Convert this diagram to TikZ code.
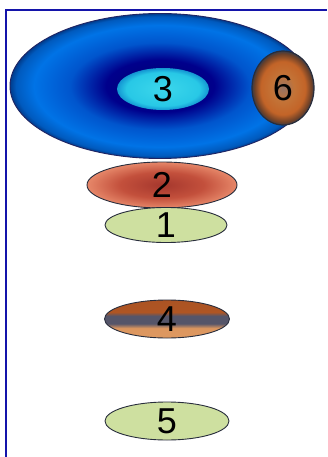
\documentclass[tikz,border=0pt]{standalone}
\usepackage{fontspec}
\setmainfont{Liberation Sans}
\usepackage{tikz}
\usetikzlibrary{shapes.geometric, positioning}

\definecolor{framecol}{RGB}{20,20,170}
\definecolor{lightgreen}{RGB}{206,224,160}
\definecolor{rimcol}{RGB}{40,45,60}

\pgfdeclareradialshading{bigblue}{\pgfpoint{0bp}{0bp}}{%
  color(0bp)=(rgb,255:red,0;green,0;blue,110);
  color(9bp)=(rgb,255:red,0;green,0;blue,140);
  color(15bp)=(rgb,255:red,0;green,85;blue,205);
  color(21bp)=(rgb,255:red,0;green,115;blue,230);
  color(24bp)=(rgb,255:red,0;green,90;blue,190);
  color(25bp)=(rgb,255:red,0;green,60;blue,140);
  color(50bp)=(rgb,255:red,0;green,60;blue,140)}
\pgfdeclareradialshading{cyanball}{\pgfpoint{0bp}{0bp}}{%
  color(0bp)=(rgb,255:red,60;green,215;blue,235);
  color(20bp)=(rgb,255:red,40;green,200;blue,230);
  color(25bp)=(rgb,255:red,20;green,150;blue,210);
  color(50bp)=(rgb,255:red,20;green,150;blue,210)}
\pgfdeclareradialshading{copperball}{\pgfpoint{0bp}{0bp}}{%
  color(0bp)=(rgb,255:red,150;green,115;blue,100);
  color(9bp)=(rgb,255:red,195;green,115;blue,55);
  color(18bp)=(rgb,255:red,195;green,100;blue,40);
  color(23bp)=(rgb,255:red,110;green,65;blue,40);
  color(25bp)=(rgb,255:red,60;green,60;blue,70);
  color(50bp)=(rgb,255:red,60;green,60;blue,70)}
\pgfdeclareradialshading{redball}{\pgfpoint{0bp}{0bp}}{%
  color(0bp)=(rgb,255:red,165;green,55;blue,45);
  color(14bp)=(rgb,255:red,195;green,80;blue,60);
  color(25bp)=(rgb,255:red,230;green,135;blue,105);
  color(50bp)=(rgb,255:red,230;green,135;blue,105)}
\pgfdeclareverticalshading{stripes}{100bp}{%
  color(0bp)=(rgb,255:red,225;green,158;blue,100);
  color(38bp)=(rgb,255:red,220;green,150;blue,95);
  color(44bp)=(rgb,255:red,85;green,85;blue,105);
  color(54bp)=(rgb,255:red,85;green,85;blue,105);
  color(59bp)=(rgb,255:red,175;green,85;blue,35);
  color(100bp)=(rgb,255:red,165;green,80;blue,35)}

\tikzset{
  blob/.style={ellipse, draw=rimcol, line width=0.9pt, inner sep=0pt,
    font=\fontsize{36}{36}\selectfont, text=black},
  greenblob/.style={blob, fill=lightgreen, minimum width=124pt, minimum height=36pt}
}

\begin{document}
\begin{tikzpicture}[x=1pt, y=-1pt]
    \useasboundingbox (0,0) rectangle (327,457);
    \fill[white] (0,0) rectangle (327,457);

    \node[blob, shading=redball, minimum width=150pt, minimum height=46pt] (n2) at (162,185) {2};
    \node[blob, shading=bigblue, draw=rimcol!80!blue, minimum width=300pt, minimum height=145pt] (big) at (160,86) {};
    \node[blob, draw=none, shading=cyanball, minimum width=92pt, minimum height=42pt] (n3) at (163,89) {3};
    \node[blob, shading=copperball, line width=1.2pt, minimum width=62pt, minimum height=74pt] (n6) at (283,88) {6};
    \node[greenblob, minimum width=122pt, minimum height=34pt] (n1) at (166,225) {1};
    \node[blob, shading=stripes, minimum width=125pt, minimum height=38pt] (n4) at (167,319) {4};
    \node[greenblob, minimum height=38pt] (n5) at (167,421) {5};

    % frame on the left and top
    \draw[framecol, line width=2pt] (6,457) -- (6,10.5) -- (327,10.5);
\end{tikzpicture}
\end{document}
